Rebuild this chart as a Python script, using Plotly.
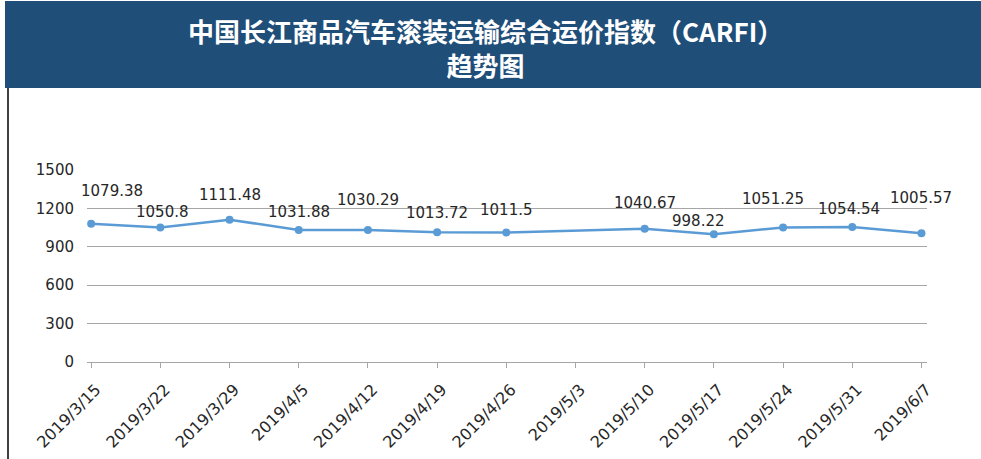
import plotly.graph_objects as go

dates = ["2019/3/15", "2019/3/22", "2019/3/29", "2019/4/5", "2019/4/12", "2019/4/19",
         "2019/4/26", "2019/5/3", "2019/5/10", "2019/5/17", "2019/5/24", "2019/5/31", "2019/6/7"]
values = [1079.38, 1050.8, 1111.48, 1031.88, 1030.29, 1013.72,
          1011.5, None, 1040.67, 998.22, 1051.25, 1054.54, 1005.57]
value_labels = ["1079.38", "1050.8", "1111.48", "1031.88", "1030.29", "1013.72",
                "1011.5", "", "1040.67", "998.22", "1051.25", "1054.54", "1005.57"]
y_ticks = [0, 300, 600, 900, 1200, 1500]

title_line1 = "中国长江商品汽车滚装运输综合运价指数（CARFI）"
title_line2 = "趋势图"

# label offsets (styling)
label_dx = [21, 2, 0, 0, 0, 0, 0, 0, 0, -15, -10, -3, 0]
label_dy = [33, 16, 25, 18, 30, 19, 23, 0, 26, 13, 28, 18, 35]

W, H = 981, 459
L, R, T, B = 87, 54, 170, 97
pw, ph = W - L - R, H - T - B

def px(x):
    return (x - L) / pw

def py(y):
    return (H - B - y) / ph

xs = list(range(len(dates)))

fig = go.Figure()
fig.add_trace(go.Scatter(
    x=xs, y=values, mode="lines+markers", connectgaps=True,
    line=dict(color="#5B9BD5", width=2.5),
    marker=dict(color="#5B9BD5", size=8),
    hoverinfo="skip", showlegend=False,
))

annotations = []
for i, (v, t) in enumerate(zip(values, value_labels)):
    if v is None:
        continue
    annotations.append(dict(
        x=xs[i], y=v, xref="x", yref="y", text=t, showarrow=False,
        xshift=label_dx[i], yshift=label_dy[i],
        font=dict(family="DejaVu Sans", size=15, color="#262626"),
    ))

annotations.append(dict(
    x=px(485), y=py(47), xref="paper", yref="paper",
    text="<b>" + title_line1 + "<br>" + title_line2 + "</b>", showarrow=False,
    font=dict(family="Noto Sans CJK SC", size=26, color="white"),
    xanchor="center", yanchor="middle", align="center",
))

shapes = [
    dict(type="rect", xref="paper", yref="paper", x0=px(5), x1=px(982), y0=py(88), y1=py(1),
         fillcolor="#1F4E79", line=dict(width=0), layer="below"),
    dict(type="line", xref="paper", yref="paper", x0=px(8), x1=px(8), y0=py(88), y1=py(460),
         line=dict(color="black", width=1.5)),
]

fig.update_layout(
    width=W, height=H,
    margin=dict(l=L, r=R, t=T, b=B, autoexpand=False),
    paper_bgcolor="white", plot_bgcolor="white",
    annotations=annotations, shapes=shapes,
    xaxis=dict(
        tickmode="array", tickvals=xs, ticktext=dates, tickangle=-45,
        range=[-0.06, 12.08], showgrid=False, zeroline=False, automargin=False,
        showline=True, linecolor="#A6A6A6", linewidth=1,
        ticks="outside", tickcolor="#A6A6A6", ticklen=5,
        ticklabelshift=5, ticklabelstandoff=6,
        tickfont=dict(family="DejaVu Sans", size=16, color="#262626"),
    ),
    yaxis=dict(
        tickmode="array", tickvals=y_ticks, range=[0, 1500], automargin=False,
        showgrid=True, gridcolor="#A6A6A6", gridwidth=1, zeroline=False,
        showline=False, ticks="", ticklabelstandoff=12,
        tickfont=dict(family="DejaVu Sans", size=15, color="#262626"),
    ),
)

fig.write_html("out.html", config={"displayModeBar": False},
               post_script="document.body.style.margin='0';document.body.style.overflow='hidden';")
